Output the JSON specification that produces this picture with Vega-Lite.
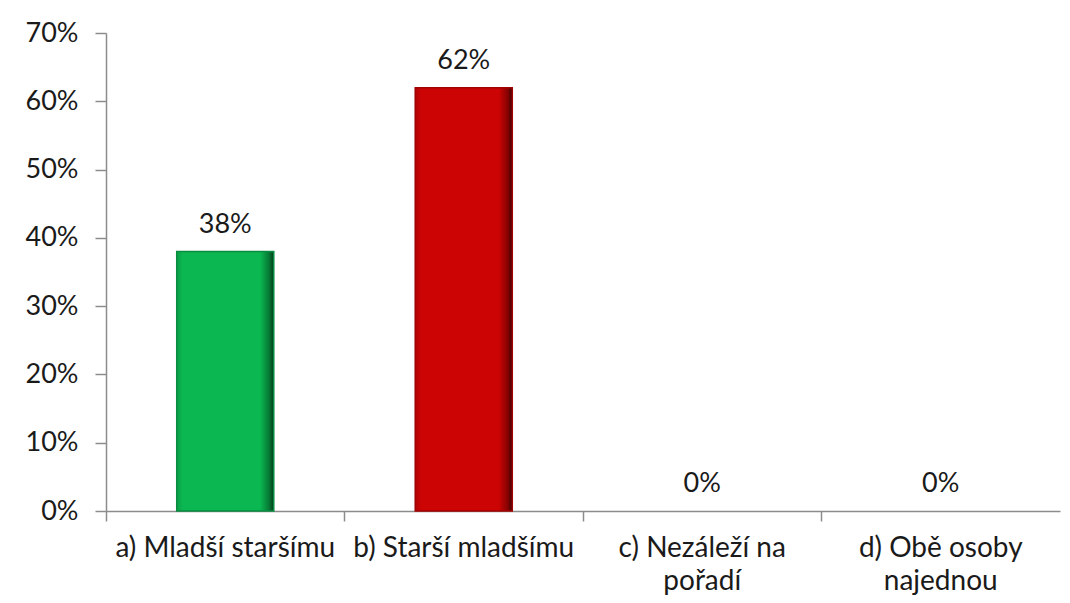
{
  "$schema": "https://vega.github.io/schema/vega-lite/v6.json",
  "width": 954,
  "height": 478,
  "autosize": "none",
  "padding": {"left": 106, "top": 33, "right": 10, "bottom": 92},
  "background": "white",
  "config": {"view": {"stroke": null}, "font": "Lato"},
  "data": {"values": [
    {"kategorie": "a) Mladší staršímu", "podil": 0.38},
    {"kategorie": "b) Starší mladšímu", "podil": 0.62},
    {"kategorie": "c) Nezáleží na pořadí", "podil": 0},
    {"kategorie": "d) Obě osoby najednou", "podil": 0}
  ]},
  "encoding": {
    "x": {
      "field": "kategorie", "type": "nominal", "sort": null,
      "scale": {"paddingInner": 0, "paddingOuter": 0},
      "axis": {
        "title": null, "labelAngle": 0, "bandPosition": 0,
        "domainColor": "#8c8c8c", "domainWidth": 1.5,
        "tickColor": "#8c8c8c", "tickWidth": 1.5, "tickSize": 10,
        "labelFontSize": 28, "labelColor": "#1a1a1a", "labelPadding": 13,
        "labelLineHeight": 33, "labelLimit": 0, "labelOverlap": false,
        "labelExpr": "datum.label == 'c) Nezáleží na pořadí' ? ['c) Nezáleží na', 'pořadí'] : datum.label == 'd) Obě osoby najednou' ? ['d) Obě osoby', 'najednou'] : datum.label"
      }
    },
    "y": {
      "field": "podil", "type": "quantitative",
      "scale": {"domain": [0, 0.7]},
      "axis": {
        "title": null, "format": ".0%", "values": [0, 0.1, 0.2, 0.3, 0.4, 0.5, 0.6, 0.7],
        "grid": false, "labelOverlap": false, "labelFlush": false,
        "domainColor": "#8c8c8c", "domainWidth": 1.5,
        "tickColor": "#8c8c8c", "tickWidth": 1.5, "tickSize": 11,
        "labelFontSize": 27, "labelColor": "#1a1a1a", "labelPadding": 17
      }
    }
  },
  "layer": [
    {
      "transform": [{"filter": "datum.kategorie == 'a) Mladší staršímu'"}],
      "mark": {"type": "bar", "width": {"band": 0.407}, "strokeWidth": 1.5, "stroke": "#0a8c40",
        "color": {"gradient": "linear", "x1": 0, "y1": 0, "x2": 1, "y2": 0,
          "stops": [{"offset": 0, "color": "#0a9e46"}, {"offset": 0.06, "color": "#0bb751"}, {"offset": 0.86, "color": "#0bb751"}, {"offset": 0.95, "color": "#067a35"}, {"offset": 1, "color": "#033d1b"}]}}
    },
    {
      "transform": [{"filter": "datum.kategorie == 'b) Starší mladšímu'"}],
      "mark": {"type": "bar", "width": {"band": 0.407}, "strokeWidth": 1.5, "stroke": "#a00303",
        "color": {"gradient": "linear", "x1": 0, "y1": 0, "x2": 1, "y2": 0,
          "stops": [{"offset": 0, "color": "#b00303"}, {"offset": 0.06, "color": "#cc0404"}, {"offset": 0.86, "color": "#cc0404"}, {"offset": 0.95, "color": "#8a0202"}, {"offset": 1, "color": "#3d0000"}]}}
    },
    {
      "mark": {"type": "text", "dy": -19, "fontSize": 27, "color": "#1a1a1a", "baseline": "alphabetic"},
      "encoding": {
        "text": {"field": "podil", "type": "quantitative", "format": ".0%"}
      }
    }
  ]
}
